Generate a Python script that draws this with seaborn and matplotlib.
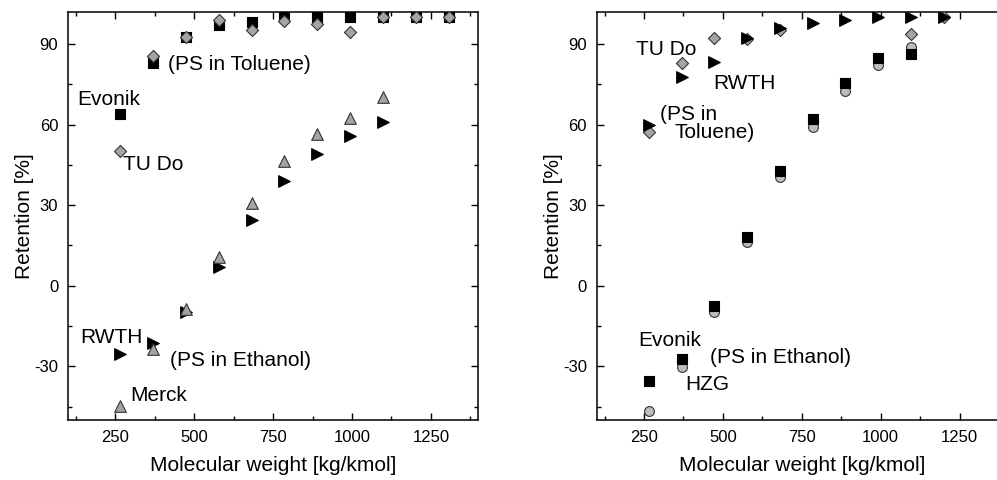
import numpy as np
import pandas as pd
import matplotlib
matplotlib.use("Agg")
import matplotlib.pyplot as plt
from matplotlib.ticker import MultipleLocator
import seaborn as sns

# left panel - PS in toluene
mw_tol_l = [265, 370, 474, 578, 682, 786, 890, 994, 1098, 1202, 1306]
evonik_tol_l = [64, 83, 92.7, 97, 98, 100, 100, 100, 100, 100, 100]
tudo_tol_l = [50.2, 85.6, 92.7, 98.9, 95.2, 98.6, 97.4, 94.3, 100, 100, 100]

# left panel - PS in ethanol
mw_eth_l = [265, 370, 474, 578, 682, 786, 890, 994, 1098]
rwth_eth_l = [-25.4, -21.5, -9.9, 7.1, 24.6, 39.1, 49.2, 55.8, 60.8]
merck_eth_l = [-44.7, -23.6, -8.7, 10.5, 30.6, 46.5, 56.4, 62.6, 70.1]

# right panel - PS in toluene
mw_tol_r = [265, 370, 473, 577, 680, 785, 888, 991, 1095, 1200]
rwth_tol_r = [59.9, 77.8, 83.4, 92.2, 96.1, 97.8, 99, 100, 100, 100]
mw_tudo_r = [265, 370, 473, 577, 680, 1095, 1200]
tudo_tol_r = [57.1, 82.9, 92.2, 91.8, 95.1, 93.7, 100]

# right panel - PS in ethanol
mw_eth_r = [265, 370, 473, 577, 680, 785, 888, 991, 1095]
hzg_eth_r = [-46.8, -30.4, -9.9, 16.1, 40.3, 59.2, 72.6, 82.1, 88.7]
evonik_eth_r = [-35.6, -27.3, -7.4, 18.2, 42.8, 62, 75.3, 84.8, 86.4]

sns.set_style("ticks")
plt.rcParams['font.family'] = ['Liberation Sans', 'DejaVu Sans']
plt.rcParams['axes.unicode_minus'] = False
for k in ('text.color', 'axes.labelcolor', 'xtick.color', 'ytick.color', 'axes.edgecolor'):
    plt.rcParams[k] = 'black'

grey = '#a4a4a4'
edge = '#333333'

fig = plt.figure(figsize=(9.97, 4.8), dpi=100)
ax1 = fig.add_axes([0.0682, 0.125, 0.4115, 0.8506])
ax2 = fig.add_axes([0.5985, 0.125, 0.4115, 0.8506])


def pts(ax, x, y, marker, color, ec, s):
    sns.scatterplot(x=x, y=y, ax=ax, marker=marker, color=color,
                    edgecolor=ec, linewidth=0.8, s=s, zorder=3)


# left
pts(ax1, mw_tol_l, evonik_tol_l, 's', 'black', 'black', 45)
pts(ax1, mw_tol_l, tudo_tol_l, 'D', grey, edge, 38)
pts(ax1, mw_eth_l, rwth_eth_l, '>', 'black', 'black', 70)
pts(ax1, mw_eth_l, merck_eth_l, '^', grey, edge, 70)

# right
pts(ax2, mw_tudo_r, tudo_tol_r, 'D', grey, edge, 38)
pts(ax2, mw_tol_r, rwth_tol_r, '>', 'black', 'black', 70)
pts(ax2, mw_eth_r, hzg_eth_r, 'o', '#bdbdbd', edge, 50)
pts(ax2, mw_eth_r, evonik_eth_r, 's', 'black', 'black', 45)

fs = 15
ax1.text(129, 69.5, 'Evonik', fontsize=fs, va='center')
ax1.text(275, 45.3, 'TU Do', fontsize=fs, va='center')
ax1.text(418, 82.5, '(PS in Toluene)', fontsize=fs, va='center')
ax1.text(140, -19.2, 'RWTH', fontsize=fs, va='center')
ax1.text(423, -27.9, '(PS in Ethanol)', fontsize=fs, va='center')
ax1.text(298, -40.9, 'Merck', fontsize=fs, va='center')

ax2.text(226, 88, 'TU Do', fontsize=fs, va='center')
ax2.text(468, 75.3, 'RWTH', fontsize=fs, va='center')
ax2.text(299, 63.9, '(PS in', fontsize=fs, va='center')
ax2.text(346, 57, 'Toluene)', fontsize=fs, va='center')
ax2.text(233, -20.5, 'Evonik', fontsize=fs, va='center')
ax2.text(460, -26.9, '(PS in Ethanol)', fontsize=fs, va='center')
ax2.text(381, -36.8, 'HZG', fontsize=fs, va='center')

for ax in (ax1, ax2):
    ax.set_xlim(100, 1400)
    ax.set_ylim(-50, 102)
    ax.xaxis.set_major_locator(MultipleLocator(250))
    ax.xaxis.set_minor_locator(MultipleLocator(125))
    ax.yaxis.set_major_locator(MultipleLocator(30))
    ax.yaxis.set_minor_locator(MultipleLocator(15))
    ax.tick_params(which='both', direction='in', top=True, right=True,
                   labelsize=12, width=1.0, pad=7)
    ax.tick_params(which='major', length=5)
    ax.tick_params(which='minor', length=3)
    for sp in ax.spines.values():
        sp.set_linewidth(1.1)
        sp.set_visible(True)
    ax.set_xlabel('Molecular weight [kg/kmol]', fontsize=15, labelpad=8)
    ax.set_ylabel('Retention [%]', fontsize=15, labelpad=0)

fig.savefig('out.png', dpi=100)
